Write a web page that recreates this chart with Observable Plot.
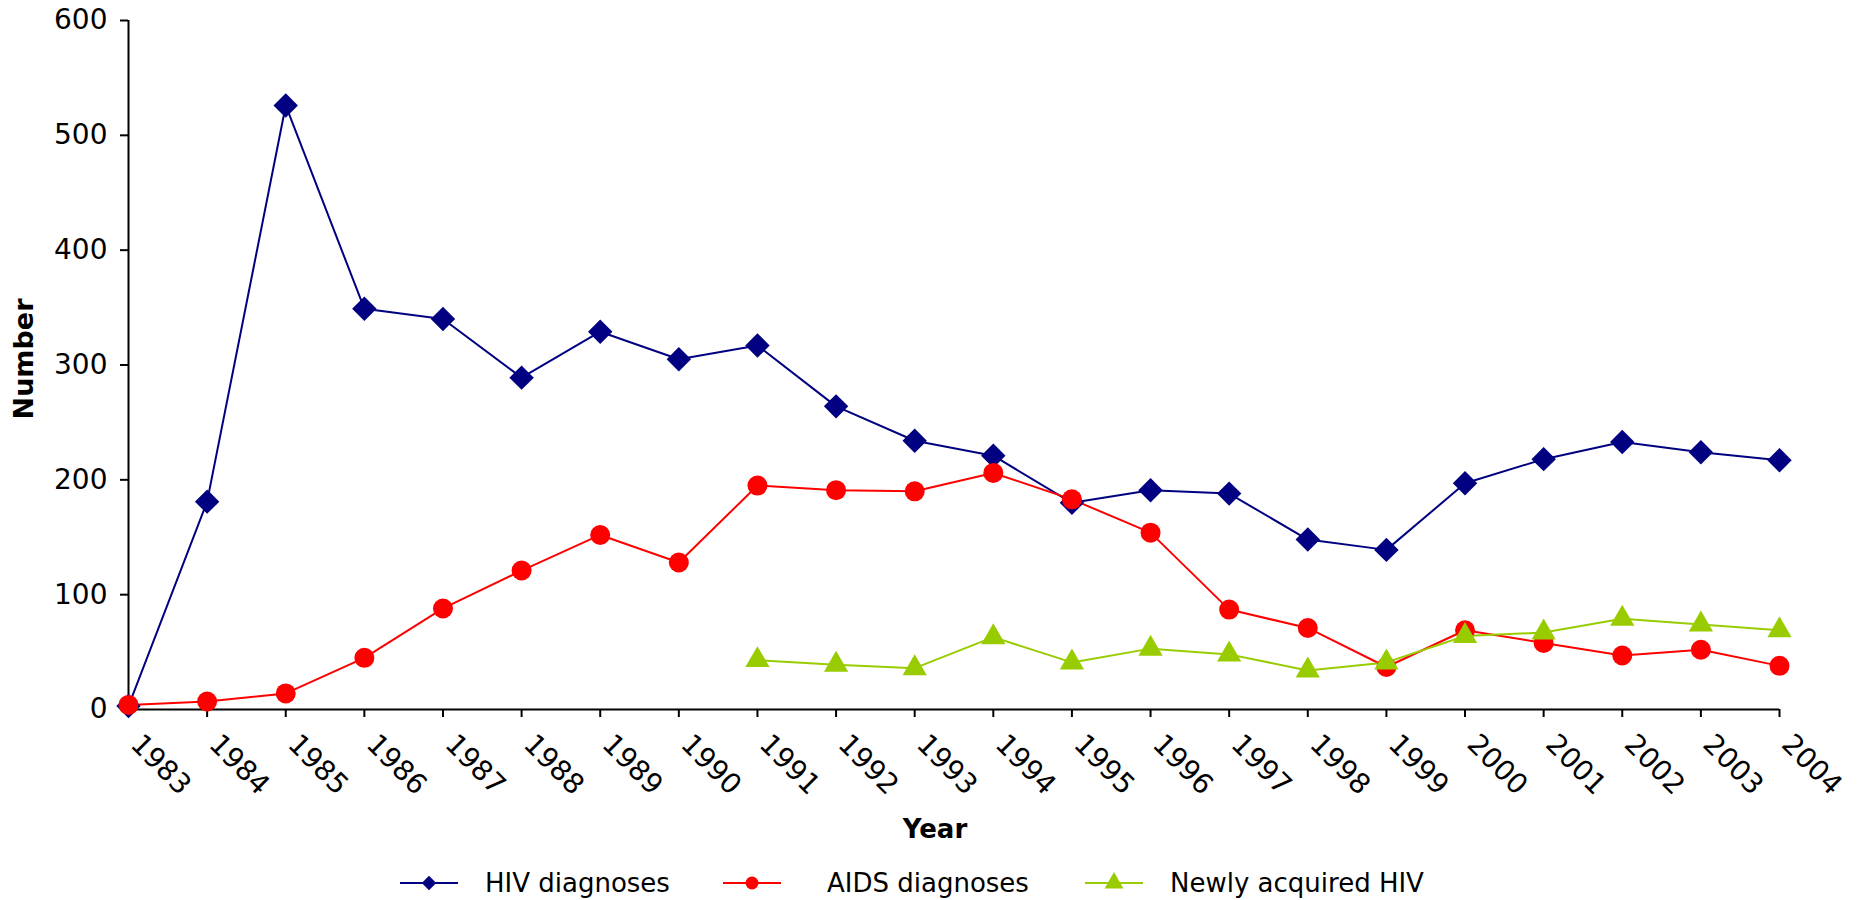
<!DOCTYPE html>
<html>
<head>
<meta charset="utf-8">
<script src="https://cdn.jsdelivr.net/npm/d3@7"></script>
<script src="https://cdn.jsdelivr.net/npm/@observablehq/plot@0.6"></script>
<style>
  html, body { margin: 0; padding: 0; background: #fff; }
  body { width: 1860px; height: 900px; overflow: hidden; font-family: "DejaVu Sans", Verdana, sans-serif; }
  #legend { position: relative; width: 1860px; height: 40px; }
  .item { position: absolute; top: 8px; height: 30px; display: flex; align-items: center; font-size: 26px; color: #000; white-space: nowrap; }
  .item svg { display: block; }
</style>
</head>
<body>
<div id="chart"></div>
<div id="legend"></div>
<script>
const years = [1983,1984,1985,1986,1987,1988,1989,1990,1991,1992,1993,1994,1995,1996,1997,1998,1999,2000,2001,2002,2003,2004];
const hivDiagnoses = [3,181,526,349,340,289,329,305,317,264,234,221,180,191,188,148,139,197,218,233,224,217];
const aidsDiagnoses = [4,7,14,45,88,121,152,128,195,191,190,206,183,154,87,71,37,69,58,47,52,38];
const newlyYears = [1991,1992,1993,1994,1995,1996,1997,1998,1999,2000,2001,2002,2003,2004];
const newlyAcquired = [43,39,36,63,41,53,48,34,41,64,67,79,74,69];
const yTicks = [0,100,200,300,400,500,600];
const seriesNames = ["HIV diagnoses", "AIDS diagnoses", "Newly acquired HIV"];
const seriesColors = ["#000080", "#ff0000", "#99cc00"];
const seriesSymbols = ["diamond2", "circle", "triangle"];
const seriesR = [11, 10, 9];
const legendR = [6.5, 6.5, 7];

const hiv = years.map((y, i) => ({year: y, value: hivDiagnoses[i]}));
const aids = years.map((y, i) => ({year: y, value: aidsDiagnoses[i]}));
const newly = newlyYears.map((y, i) => ({year: y, value: newlyAcquired[i]}));
const sets = [hiv, aids, newly];

const marks = [];
sets.forEach((d, k) => {
  marks.push(Plot.line(d, {x: "year", y: "value", stroke: seriesColors[k], strokeWidth: 2}));
});
sets.forEach((d, k) => {
  marks.push(Plot.dot(d, {x: "year", y: "value", fill: seriesColors[k], stroke: "none", symbol: seriesSymbols[k], r: seriesR[k]}));
});

const chart = Plot.plot({
  width: 1860,
  height: 860,
  marginTop: 20,
  marginLeft: 128,
  marginRight: 81,
  marginBottom: 151,
  style: {fontFamily: "DejaVu Sans, Verdana, sans-serif", fontSize: "28px", color: "#000", background: "#fff"},
  x: {domain: [1983, 2004]},
  y: {domain: [0, 600]},
  marks: [
    Plot.axisY({ticks: yTicks, tickSize: 8, tickPadding: 13, tickFormat: d => String(d), label: "Number", labelArrow: "none", labelAnchor: "center", labelOffset: 104, fontSize: 28, stroke: "#000", strokeWidth: 2}),
    // tick marks only
    Plot.tickX(years, {x: d => d, y1: 0, y2: 0, stroke: "none"}),
    Plot.axisX({ticks: years, tickSize: 8, tickFormat: () => "", label: null, stroke: "#000", strokeWidth: 2}),
    // rotated year labels + axis title
    Plot.axisX({ticks: years, tickSize: 0, tickPadding: 30, dx: 7, tickRotate: 45, tickFormat: d => String(d), label: "Year", labelAnchor: "center", labelArrow: "none", labelOffset: 128, fontSize: 28}),
    Plot.ruleX([1983], {stroke: "#000", strokeWidth: 2}),
    Plot.ruleY([0], {stroke: "#000", strokeWidth: 2}),
    ...marks
  ]
});
// bold axis labels, nudged to match the original layout
const yl = chart.querySelector("g[aria-label='y-axis label']");
const xl = chart.querySelector("g[aria-label='x-axis label']");
if (yl) {
  yl.querySelectorAll("text").forEach(t => { t.setAttribute("font-weight", "bold"); t.setAttribute("font-size", "27"); });
  yl.setAttribute("transform", (yl.getAttribute("transform") || "") + " translate(-11,-6)");
}
if (xl) {
  xl.querySelectorAll("text").forEach(t => { t.setAttribute("font-weight", "bold"); t.setAttribute("font-size", "26"); });
  xl.setAttribute("transform", (xl.getAttribute("transform") || "") + " translate(-19,0)");
}
// drop the empty tick-label texts of the tick-only axis
chart.querySelectorAll("g[aria-label='x-axis tick label'] text").forEach(t => { if (!t.textContent) t.remove(); });
document.getElementById("chart").appendChild(chart);

// legend
const legendLeft = [400, 723, 1085];
const textGap = [27, 46, 27];
const legend = document.getElementById("legend");
const typeMap = {diamond2: d3.symbolDiamond2, circle: d3.symbolCircle, triangle: d3.symbolTriangle};
seriesNames.forEach((name, k) => {
  const item = document.createElement("div");
  item.className = "item";
  item.style.left = legendLeft[k] + "px";
  const path = d3.symbol().type(typeMap[seriesSymbols[k]]).size(Math.PI * legendR[k] * legendR[k])();
  const svg = `<svg width="58" height="30" viewBox="0 0 58 30"><line x1="0" x2="58" y1="15" y2="15" stroke="${seriesColors[k]}" stroke-width="2"/><path d="${path}" transform="translate(29,15)" fill="${seriesColors[k]}"/></svg>`;
  item.innerHTML = svg + `<span style="margin-left:${textGap[k]}px">${name}</span>`;
  legend.appendChild(item);
});
</script>
</body>
</html>
